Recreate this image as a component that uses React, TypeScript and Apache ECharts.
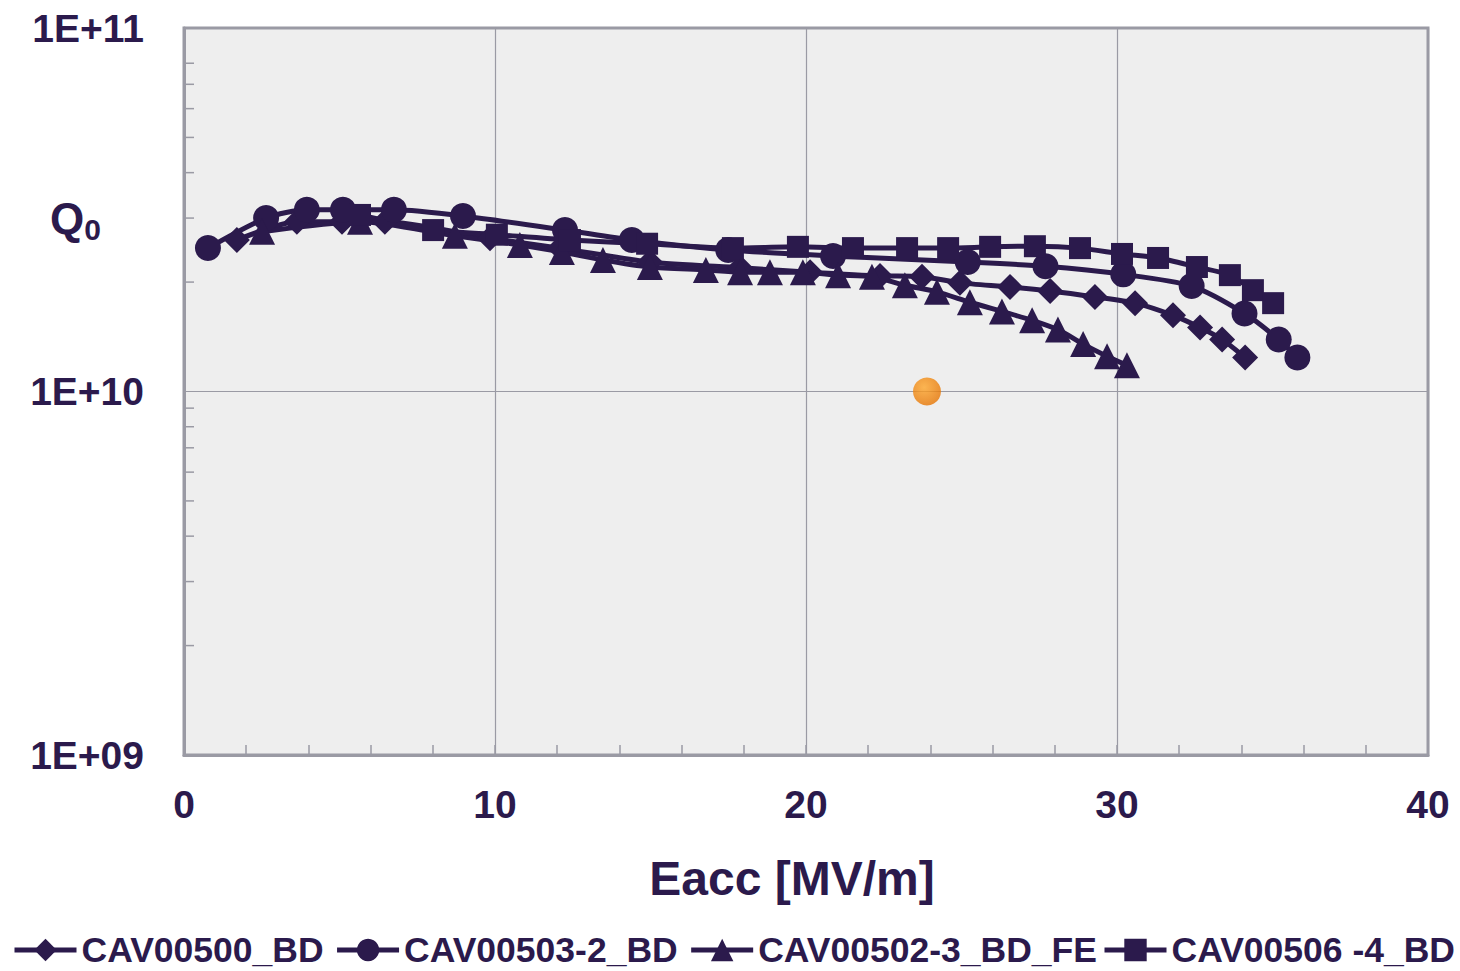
import React, { useEffect, useRef } from "react";
import * as echarts from "echarts";

const seriesNames = ["CAV00500_BD", "CAV00503-2_BD", "CAV00502-3_BD_FE", "CAV00506 -4_BD"];

const diamondX = [1.70, 3.63, 5.08, 6.46, 9.84, 12.09, 14.98, 17.88, 20.13, 22.38, 23.73, 24.95, 26.56, 27.85, 29.29, 30.58, 31.80, 32.67, 33.38, 34.12];
const diamondQ = [2.61e10, 2.93e10, 2.93e10, 2.93e10, 2.64e10, 2.48e10, 2.27e10, 2.19e10, 2.13e10, 2.08e10, 2.07e10, 1.99e10, 1.94e10, 1.89e10, 1.82e10, 1.75e10, 1.62e10, 1.50e10, 1.39e10, 1.24e10];

const circleX = [0.77, 2.64, 3.95, 5.11, 6.75, 8.97, 12.25, 14.4, 17.5, 20.87, 25.2, 27.7, 30.2, 32.4, 34.1, 35.2, 35.8];
const circleQ = [2.48e10, 3.0e10, 3.16e10, 3.16e10, 3.16e10, 3.04e10, 2.78e10, 2.61e10, 2.45e10, 2.36e10, 2.27e10, 2.21e10, 2.10e10, 1.95e10, 1.64e10, 1.39e10, 1.24e10];

const triangleX = [2.51, 5.66, 8.71, 10.80, 12.15, 13.47, 14.98, 16.78, 17.88, 18.84, 19.90, 21.03, 22.12, 23.18, 24.21, 25.27, 26.30, 27.27, 28.10, 28.91, 29.68, 30.32];
const triangleQ = [2.75e10, 2.93e10, 2.68e10, 2.53e10, 2.42e10, 2.30e10, 2.20e10, 2.16e10, 2.13e10, 2.13e10, 2.13e10, 2.09e10, 2.07e10, 1.96e10, 1.88e10, 1.76e10, 1.66e10, 1.57e10, 1.48e10, 1.35e10, 1.25e10, 1.18e10];

const squareX = [5.66, 8.01, 10.06, 12.41, 14.89, 17.65, 19.74, 21.51, 23.25, 24.57, 25.92, 27.36, 28.81, 30.16, 31.32, 32.57, 33.63, 34.37, 35.02];
const squareQ = [3.06e10, 2.78e10, 2.70e10, 2.61e10, 2.55e10, 2.48e10, 2.50e10, 2.48e10, 2.48e10, 2.48e10, 2.50e10, 2.51e10, 2.48e10, 2.39e10, 2.33e10, 2.20e10, 2.09e10, 1.90e10, 1.75e10];

const targetPoint = [23.89, 1e10];

const yMinorTicks = [2e9, 3e9, 4e9, 5e9, 6e9, 7e9, 8e9, 9e9, 2e10, 3e10, 4e10, 5e10, 6e10, 7e10, 8e10];

const ink = "#2b1a4c";
const frame = "#9a9aa4";
const font = "'Liberation Sans', Arial, sans-serif";

const zip = (xs: number[], ys: number[]) => xs.map((x, i) => [x, ys[i]]);

export default function App() {
  const ref = useRef<HTMLDivElement>(null);
  useEffect(() => {
    if (!ref.current) return;
    const chart = echarts.init(ref.current, undefined, { renderer: "svg" });
    const lineSeries = (name: string, xs: number[], ys: number[], symbol: string, size: number) => ({
      name,
      type: "line",
      data: zip(xs, ys),
      symbol,
      symbolSize: size,
      smooth: 0.25,
      lineStyle: { color: ink, width: 5 },
      itemStyle: { color: ink },
      z: 3,
    });
    const legendBase = {
      top: 932,
      padding: 0,
      itemWidth: 62,
      itemHeight: 28,
      itemGap: 11,
      lineStyle: { width: 5, color: ink },
      textStyle: { fontSize: 35.5, fontWeight: "bold", color: ink, fontFamily: font },
    };
    chart.setOption({
      animation: false,
      backgroundColor: "#ffffff",
      textStyle: { fontFamily: font },
      grid: {
        left: 184,
        top: 28,
        right: 32,
        bottom: 216,
        show: true,
        backgroundColor: "#eeeeee",
        borderColor: frame,
        borderWidth: 3,
      },
      legend: [
        { ...legendBase, data: seriesNames.slice(0, 3), left: 12 },
        { ...legendBase, data: seriesNames.slice(3), left: 1102 },
      ],
      xAxis: {
        type: "value",
        min: 0,
        max: 40,
        interval: 10,
        name: "Eacc [MV/m]",
        nameLocation: "middle",
        nameGap: 99,
        nameTextStyle: { fontSize: 48, fontWeight: "bold", color: ink, fontFamily: font, padding: [0, 28, 0, 0] },
        axisLine: { show: true, lineStyle: { color: frame, width: 3 } },
        axisTick: { show: true, inside: true, length: 10, lineStyle: { color: frame, width: 1.5 } },
        minorTick: { show: true, splitNumber: 5, length: 10, lineStyle: { color: frame, width: 1.5 } },
        splitLine: { show: true, lineStyle: { color: "#9a9aa4", width: 1.2 } },
        axisLabel: { fontSize: 39, fontWeight: "bold", color: ink, margin: 30, fontFamily: font },
      },
      yAxis: {
        type: "log",
        logBase: 10,
        min: 1e9,
        max: 1e11,
        axisLine: { show: true, lineStyle: { color: frame, width: 3 } },
        axisTick: { show: false },
        splitLine: { show: true, lineStyle: { color: "#9a9aa4", width: 1.2 } },
        axisLabel: {
          fontSize: 39,
          fontWeight: "bold",
          color: ink,
          margin: 40,
          fontFamily: font,
          formatter: (v: number) => {
            const e = Math.round(Math.log10(v));
            return "1E+" + (e < 10 ? "0" + e : String(e));
          },
        },
      },
      graphic: [
        {
          type: "text",
          left: 50,
          top: 196,
          style: {
            text: "{q|Q}{s|0}",
            rich: {
              q: { fontSize: 44, fontWeight: "bold", fill: ink, fontFamily: font },
              s: { fontSize: 30, fontWeight: "bold", fill: ink, fontFamily: font, padding: [22, 0, 0, 0] },
            },
          },
        },
      ],
      series: [
        {
          type: "custom",
          silent: true,
          z: 1,
          data: yMinorTicks.map((v) => [0, v]),
          renderItem: (params: any, api: any) => {
            const p = api.coord([0, api.value(1)]);
            return {
              type: "line",
              shape: { x1: p[0], y1: p[1], x2: p[0] + 10, y2: p[1] },
              style: { stroke: frame, lineWidth: 1.5 },
            };
          },
        },
        lineSeries(seriesNames[0], diamondX, diamondQ, "diamond", 26),
        lineSeries(seriesNames[1], circleX, circleQ, "circle", 26),
        lineSeries(seriesNames[2], triangleX, triangleQ, "triangle", 26),
        lineSeries(seriesNames[3], squareX, squareQ, "rect", 22),
        {
          type: "scatter",
          data: [targetPoint],
          symbol: "circle",
          symbolSize: 28,
          z: 5,
          itemStyle: {
            color: {
              type: "radial",
              x: 0.4,
              y: 0.35,
              r: 0.7,
              colorStops: [
                { offset: 0, color: "#ffa62a" },
                { offset: 1, color: "#e57200" },
              ],
            },
          },
        },
      ],
    });
    return () => chart.dispose();
  }, []);
  return (
    <div
      ref={ref}
      style={{ position: "absolute", left: 0, top: 0, width: 1460, height: 971 }}
    />
  );
}
